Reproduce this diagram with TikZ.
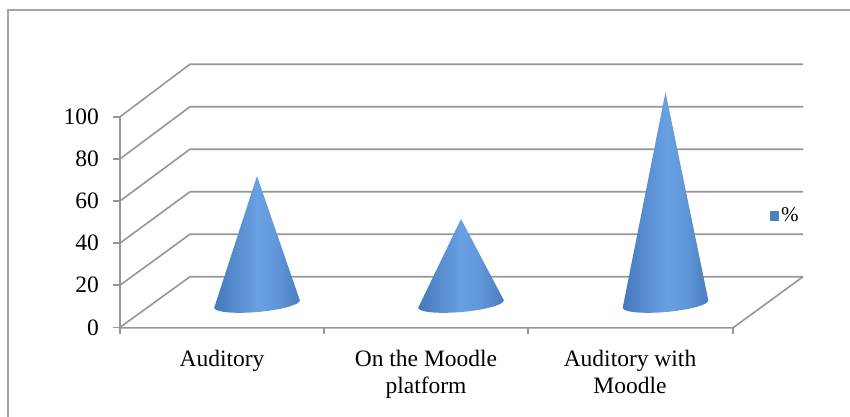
\documentclass[tikz,border=0pt]{standalone}
\usepackage{fontspec}
\setmainfont{Liberation Serif}
\definecolor{gridgray}{RGB}{150,150,150}
\definecolor{framegray}{RGB}{165,165,165}
\definecolor{conedark}{RGB}{36,74,130}
\definecolor{conemid}{RGB}{62,112,180}
\definecolor{conelight}{RGB}{105,160,225}
\definecolor{legendblue}{RGB}{79,129,189}
\pgfdeclarehorizontalshading{conesh}{100bp}{color(0bp)=(conedark); color(20bp)=(conemid); color(50bp)=(conelight); color(60bp)=(conelight!85!conemid); color(82bp)=(conemid); color(100bp)=(conedark)}
\newcommand\drawcone[3]{% cx, cy, tip y
  \shade[shading=conesh] (#1-42.8,#2+3.75) -- (#1,#3) -- (#1+42.8,#2-3.75)
    .. controls (#1+43.2,#2+0.65) and (#1+24.3,#2+5.9) .. (#1+0.7,#2+7.97)
    .. controls (#1-22.9,#2+10.04) and (#1-42.4,#2+8.15) .. cycle;
}
\tikzset{
  gridline/.style={draw=gridgray, line width=1.6pt},
  lbl/.style={font=\fontsize{23.5}{27}\selectfont, inner sep=0pt},
}
\begin{document}
\begin{tikzpicture}[x=1pt,y=-1pt]
\useasboundingbox (0,0) rectangle (850,416);
% frame
\draw[framegray, line width=1.2pt] (8,417) -- (8,10) -- (851,10);
% walls and ticks
\foreach \fy/\by/\lab in {327.3/276.7/0, 285.2/234.2/20, 243.1/191.7/40, 201.0/149.2/60, 158.9/106.7/80, 116.8/64.2/100} {
  \draw[gridline] (120,\fy) -- (190,\by) -- (803,\by);
  \draw[gridline] (113,\fy) -- (120,\fy);
  \node[lbl, anchor=east] (t\lab) at (99,\fy) {\lab};
}
% front axis
\draw[gridline] (120,116.8) -- (120,334);
% floor
\draw[gridline] (120,327.8) -- (733,327.8) -- (803,276.7);
\foreach \tx in {324,528,733} {
  \draw[gridline] (\tx,327.8) -- (\tx,334);
}
% cones
\drawcone{257}{304}{176}
\drawcone{461}{304}{219}
\drawcone{665.5}{304}{92}
% category labels
\node[lbl, anchor=base, align=center] (c1) at (222,366) {Auditory};
\node[lbl, anchor=base, align=center] (c2) at (426,393) {On the Moodle\\platform};
\node[lbl, anchor=base, align=center] (c3) at (630,393) {Auditory with\\Moodle};
% legend
\fill[legendblue] (770,211) rectangle (779,221);
\node[font=\fontsize{21}{24}\selectfont, inner sep=0pt, anchor=west] (leg) at (781,215) {\%};
\end{tikzpicture}
\end{document}
